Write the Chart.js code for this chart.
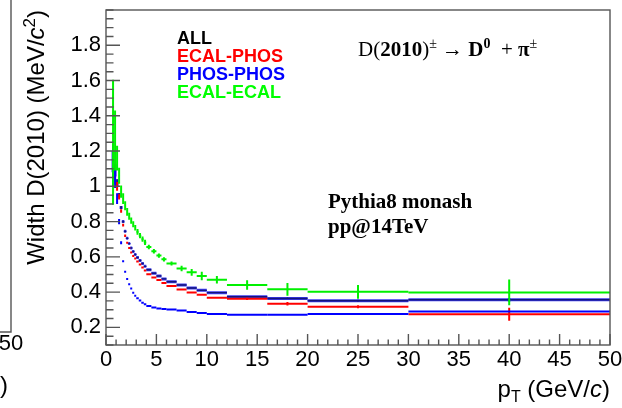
<!DOCTYPE html>
<html><head><meta charset="utf-8">
<script src="https://cdn.jsdelivr.net/npm/chart.js@4.4.1/dist/chart.umd.min.js"></script>
<style>html,body{margin:0;padding:0;background:#fff;overflow:hidden}canvas{display:block}</style>
</head><body>
<canvas id="c" width="622" height="408"></canvas>
<script>
// ---------------- data ----------------
const binEdges = [0.6,0.8,1.0,1.2,1.4,1.6,1.8,2.0,2.2,2.4,2.6,2.8,3.0,3.25,3.5,3.75,4.0,4.5,5.0,5.5,6.0,7,8,9,10,12,16,20,30,50];

const allValues      = [1.14,1.09,1.02,0.95,0.88,0.80,0.745,0.705,0.675,0.65,0.63,0.613,0.596,0.579,0.562,0.546,0.527,0.507,0.491,0.475,0.459,0.440,0.423,0.410,0.397,0.374,0.364,0.351,0.357];
const allErrors      = [0.06,0.035,0.02,0.012,0.008,0.006,0.005,0.004,0.004,0.004,0.004,0.004,0.004,0.004,0.004,0.004,0.003,0.003,0.003,0.003,0.003,0.003,0.004,0.004,0.004,0.004,0.005,0.005,0.01];

const ecalPhosValues = [1.12,1.06,1.00,0.94,0.86,0.78,0.72,0.68,0.65,0.625,0.605,0.59,0.574,0.556,0.539,0.522,0.501,0.483,0.468,0.452,0.435,0.415,0.398,0.385,0.368,0.362,0.334,0.317,0.274];
const ecalPhosErrors = [0.08,0.045,0.025,0.015,0.01,0.008,0.007,0.006,0.006,0.005,0.005,0.005,0.005,0.005,0.005,0.005,0.005,0.005,0.005,0.005,0.005,0.005,0.006,0.006,0.006,0.007,0.01,0.009,0.037];

const phosPhosValues = [1.12,1.05,0.93,0.80,0.68,0.575,0.515,0.475,0.445,0.42,0.397,0.38,0.365,0.352,0.34,0.331,0.321,0.313,0.307,0.304,0.302,0.295,0.287,0.282,0.276,0.272,0.272,0.276,0.29];
const phosPhosErrors = [0.12,0.06,0.03,0.015,0.008,0.005,0.004,0.003,0.003,0.003,0.003,0.002,0.002,0.002,0.002,0.002,0.002,0.002,0.002,0.002,0.002,0.002,0.002,0.002,0.002,0.002,0.003,0.003,0.006];

const ecalEcalValues = [1.25,1.26,1.16,1.06,0.97,0.93,0.89,0.855,0.83,0.805,0.785,0.765,0.742,0.72,0.70,0.682,0.656,0.632,0.607,0.586,0.562,0.534,0.512,0.491,0.470,0.440,0.416,0.402,0.398];
const ecalEcalErrors = [0.355,0.17,0.07,0.045,0.035,0.03,0.026,0.022,0.02,0.018,0.017,0.016,0.016,0.015,0.015,0.015,0.013,0.013,0.012,0.012,0.011,0.016,0.019,0.024,0.021,0.027,0.036,0.039,0.073];

const seriesLabels = ["ALL","ECAL-PHOS","PHOS-PHOS","ECAL-ECAL"];
const xTicks = [0,5,10,15,20,25,30,35,40,45,50];
const yTicks = [0.2,0.4,0.6,0.8,1.0,1.2,1.4,1.6,1.8];
const xMinorStep = 1;
const yMinorStep = 0.05;

// ---------------- styles ----------------
const SANS = '"Liberation Sans", Arial, Helvetica, sans-serif';
const SERIF = '"Liberation Serif", "Times New Roman", serif';
const styles = [
  {color:'#000000', line:'#14147a', under:'#3a3af0', lw:2},
  {color:'#ff0000', line:'#ff0000', lw:2},
  {color:'#0000ff', line:'#0000ff', lw:2},
  {color:'#00ff00', line:'#00f000', lw:2}
];
const valueSets = [allValues, ecalPhosValues, phosPhosValues, ecalEcalValues];
const errorSets = [allErrors, ecalPhosErrors, phosPhosErrors, ecalEcalErrors];
const centers = binEdges.slice(0,-1).map((e,i)=>(e+binEdges[i+1])/2);

const datasets = seriesLabels.map((lab,k)=>({
  label: lab,
  data: centers.map((c,i)=>({x:c, y:valueSets[k][i]})),
  errs: errorSets[k],
  pointRadius: 0,
  showLine: false,
  borderColor: styles[k].line,
  backgroundColor: styles[k].line,
  sty: styles[k]
}));

function drawRich(ctx, segs, x, y, align){
  let w = 0;
  segs.forEach(s=>{ctx.font=s.font; s.w=ctx.measureText(s.t).width; w+=s.w;});
  let cx = align==='right' ? x-w : x;
  ctx.textAlign='left';
  segs.forEach(s=>{ctx.font=s.font; ctx.fillText(s.t, cx, y+(s.dy||0)); cx+=s.w;});
}

const histPlugin = {
  id:'hist',
  afterDatasetsDraw(chart){
    const ctx = chart.ctx, xs = chart.scales.x, ys = chart.scales.y, ca = chart.chartArea;
    ctx.save();
    ctx.beginPath(); ctx.rect(ca.left, ca.top, ca.right-ca.left, ca.bottom-ca.top); ctx.clip();
    ctx.lineCap = 'butt';
    chart.data.datasets.forEach(ds=>{
      const passes = ds.sty.under ? [[ds.sty.under, 3],[ds.sty.line, 1.4]] : [[ds.sty.line, ds.sty.lw]];
      passes.forEach(([col,lw])=>{
        ctx.strokeStyle = col; ctx.lineWidth = lw;
        ds.data.forEach((p,i)=>{
          const x0 = xs.getPixelForValue(binEdges[i]), x1 = xs.getPixelForValue(binEdges[i+1]);
          const xc = xs.getPixelForValue(p.x), yc = ys.getPixelForValue(p.y);
          const ylo = ys.getPixelForValue(p.y - ds.errs[i]), yhi = ys.getPixelForValue(p.y + ds.errs[i]);
          ctx.beginPath();
          ctx.moveTo(x0, yc); ctx.lineTo(x1, yc);
          ctx.moveTo(xc, ylo); ctx.lineTo(xc, yhi);
          ctx.stroke();
        });
      });
    });
    ctx.restore();
  },
  afterDraw(chart){
    const ctx = chart.ctx, xs = chart.scales.x, ys = chart.scales.y, ca = chart.chartArea;
    ctx.save();
    // frame
    ctx.strokeStyle = '#555'; ctx.lineWidth = 1.4;
    ctx.strokeRect(ca.left, ca.top, ca.right-ca.left, ca.bottom-ca.top);
    // ticks
    ctx.beginPath();
    const nx = Math.round((xs.max-xs.min)/xMinorStep);
    for(let k=0;k<=nx;k++){
      const v = xs.min + k*xMinorStep;
      const px = xs.getPixelForValue(v);
      const major = xTicks.includes(v);
      ctx.moveTo(px, ca.bottom); ctx.lineTo(px, ca.bottom - (major?11:5.5));
    }
    const ny = Math.round((ys.max-ys.min)/yMinorStep);
    for(let k=0;k<=ny;k++){
      const v = +(ys.min + k*yMinorStep).toFixed(3);
      const py = ys.getPixelForValue(v);
      const major = yTicks.some(t=>Math.abs(t-v)<1e-6);
      ctx.moveTo(ca.left, py); ctx.lineTo(ca.left + (major?14:7.5), py);
    }
    ctx.stroke();

    ctx.fillStyle = '#000';
    ctx.textBaseline = 'alphabetic';
    // y title
    ctx.save();
    ctx.translate(44, 10); ctx.rotate(-Math.PI/2);
    drawRich(ctx, [
      {t:'Width D(2010) (MeV/', font:'24px '+SANS},
      {t:'c', font:'italic 24px '+SANS},
      {t:'2', font:'17px '+SANS, dy:-9},
      {t:')', font:'24px '+SANS}
    ], 0, 0, 'right');
    ctx.restore();
    // x title
    drawRich(ctx, [
      {t:'p', font:'24px '+SANS},
      {t:'T', font:'16px '+SANS, dy:5},
      {t:' (GeV/', font:'24px '+SANS},
      {t:'c', font:'italic 24px '+SANS},
      {t:')', font:'24px '+SANS}
    ], 610, 397, 'right');

    // legend (text only)
    const legY = [44, 62, 80, 97.5];
    chart.data.datasets.forEach((ds,k)=>{
      ctx.font = 'bold 18px '+SANS;
      ctx.fillStyle = ds.sty.color;
      ctx.textAlign = 'left';
      ctx.fillText(ds.label, 177, legY[k]);
    });

    // annotations
    ctx.fillStyle = '#000';
    drawRich(ctx, [
      {t:'D(', font:'21px '+SERIF},
      {t:'2010', font:'bold 21px '+SERIF},
      {t:')', font:'21px '+SERIF},
      {t:'\u00B1', font:'14px '+SERIF, dy:-8},
      {t:' \u2192 ', font:'21px '+SERIF},
      {t:'D', font:'bold 21px '+SERIF},
      {t:'0', font:'bold 14px '+SERIF, dy:-8},
      {t:'  + ', font:'21px '+SERIF},
      {t:'\u03C0', font:'bold 21px '+SERIF},
      {t:'\u00B1', font:'14px '+SERIF, dy:-8}
    ], 358, 56, 'left');
    ctx.font = 'bold 21px '+SERIF; ctx.textAlign='left';
    ctx.fillText('Pythia8 monash', 328, 208);
    ctx.fillText('pp@14TeV', 328, 233);

    // sliver of neighbouring panel at left edge
    ctx.strokeStyle = '#555'; ctx.lineWidth = 1.4;
    ctx.beginPath(); ctx.moveTo(11, 0); ctx.lineTo(11, 332); ctx.lineTo(0, 332); ctx.stroke();
    ctx.font = '22px '+SANS; ctx.textAlign = 'center'; ctx.fillStyle='#000';
    ctx.fillText('50', 11, 350);
    ctx.font = '24px '+SANS; ctx.textAlign = 'right';
    ctx.fillText(')', 8, 393);
    ctx.restore();
  }
};

new Chart(document.getElementById('c').getContext('2d'), {
  type: 'scatter',
  data: {datasets},
  options: {
    responsive: false, animation: false, devicePixelRatio: 1,
    layout: {padding: {top: 10, right: 12, left: 0, bottom: 0}},
    plugins: {legend: {display: false}, tooltip: {enabled: false}},
    scales: {
      x: {
        type: 'linear', min: 0, max: 50,
        grid: {display: false, drawTicks: false}, border: {display: false},
        afterBuildTicks: s => { s.ticks = xTicks.map(v => ({value: v})); },
        ticks: {font: {family: SANS, size: 22}, color: '#000', padding: 2, maxRotation: 0, autoSkip: false},
        afterFit: s => { s.height = 63; s.paddingLeft = 0; s.paddingRight = 0; }
      },
      y: {
        type: 'linear', min: 0.1, max: 2.0,
        grid: {display: false, drawTicks: false}, border: {display: false},
        afterBuildTicks: s => { s.ticks = yTicks.map(v => ({value: v})); },
        ticks: {font: {family: SANS, size: 22}, color: '#000', padding: 5, autoSkip: false,
                callback: v => String(+v.toFixed(1))},
        afterFit: s => { s.width = 106; s.paddingTop = 0; s.paddingBottom = 0; }
      }
    }
  },
  plugins: [histPlugin]
});
</script>
</body></html>
